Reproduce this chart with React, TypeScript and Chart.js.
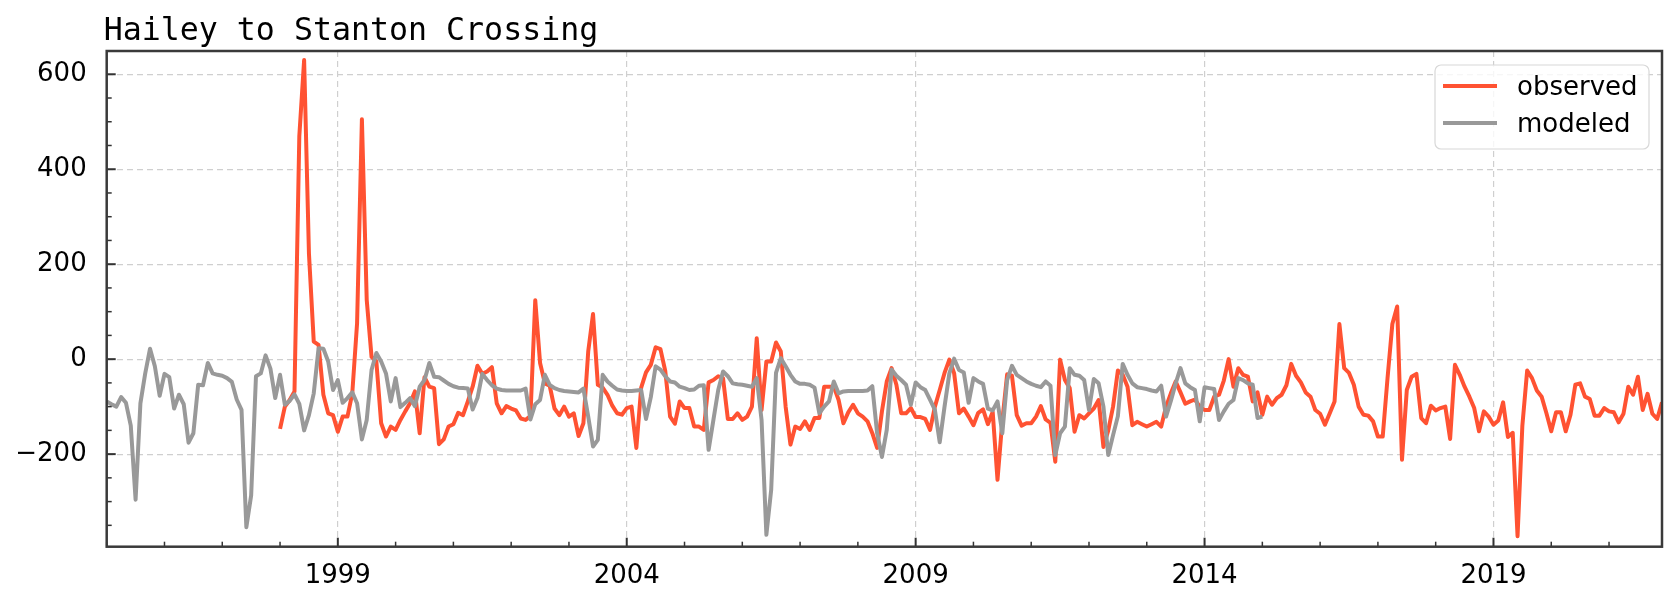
import React, { useEffect, useRef } from "react";
import { Chart, registerables } from "chart.js";

Chart.register(...registerables);

const TITLE = "Hailey to Stanton Crossing";
const OBSERVED_LABEL = "observed";
const MODELED_LABEL = "modeled";
const OBSERVED_COLOR = "#ff5232";
const MODELED_COLOR = "#999999";

// monthly values, first value = January of the start year
const MODELED_START_YEAR = 1995;
const OBSERVED_START_YEAR = 1998;

const modeledValues = [
  -89, -95, -100, -80, -92, -140, -296, -93, -30, 22,
  -15, -77, -31, -38, -104, -75, -95, -176, -156, -54,
  -55, -8, -30, -33, -35, -40, -48, -85, -107, -354,
  -287, -36, -30, 8, -20, -82, -33, -96, -88, -74,
  -94, -150, -118, -72, 23, 22, -5, -65, -44, -92,
  -82, -70, -93, -169, -128, -23, 13, -5, -30, -89,
  -40, -101, -92, -82, -99, -58, -44, -8, -37, -38,
  -45, -52, -57, -60, -61, -62, -106, -82, -31, -44,
  -55, -62, -65, -66, -66, -66, -66, -62, -127, -95,
  -86, -33, -54, -61, -65, -67, -68, -69, -70, -62,
  -121, -184, -170, -33, -47, -56, -64, -66, -67, -67,
  -66, -65, -126, -80, -15, -22, -36, -47, -49, -58,
  -61, -65, -64, -56, -55, -191, -128, -65, -26, -36,
  -51, -53, -54, -56, -58, -40, -128, -370, -275, -29,
  2, -15, -33, -47, -52, -52, -54, -60, -114, -100,
  -89, -47, -72, -68, -67, -67, -67, -67, -66, -57,
  -156, -206, -149, -22, -35, -44, -54, -96, -49, -59,
  -65, -86, -107, -175, -100, -30, 1, -23, -28, -92,
  -40, -47, -52, -104, -108, -89, -156, -44, -14, -33,
  -40, -47, -52, -56, -59, -47, -56, -202, -156, -142,
  -19, -33, -35, -44, -107, -42, -51, -100, -202, -160,
  -120, -10, -33, -51, -59, -61, -63, -66, -68, -56,
  -121, -88, -51, -19, -51, -59, -65, -131, -59, -61,
  -63, -128, -110, -94, -86, -40, -44, -51, -54, -124,
  -121,
];

const observedValues = [
  -147, -100, -86, -68,
  469, 630, 223, 37, 30, -75, -114, -118, -153, -121,
  -121, -72, 76, 505, 125, 5, -5, -135, -163, -142,
  -149, -128, -110, -93, -68, -156, -38, -58, -61, -179,
  -169, -142, -137, -113, -118, -89, -58, -14, -31, -26,
  -17, -93, -114, -99, -104, -108, -125, -128, -120, 124,
  -8, -51, -56, -104, -118, -100, -121, -114, -162, -135,
  16, 95, -54, -60, -75, -98, -114, -117, -103, -100,
  -187, -60, -28, -12, 25, 21, -25, -121, -136, -89,
  -103, -103, -142, -142, -149, -49, -44, -36, -40, -126,
  -126, -114, -128, -121, -100, 44, -107, -5, -5, 35,
  16, -100, -180, -142, -147, -131, -149, -124, -124, -58,
  -58, -58, -86, -135, -112, -96, -114, -121, -131, -156,
  -187, -110, -47, -19, -54, -114, -114, -103, -122, -122,
  -126, -149, -100, -65, -29, -1, -30, -114, -104, -121,
  -139, -113, -106, -137, -111, -254, -130, -32, -35, -118,
  -140, -135, -135, -121, -99, -127, -134, -216, -1, -44,
  -61, -153, -118, -125, -114, -104, -86, -185, -150, -100,
  -24, -33, -58, -139, -132, -137, -142, -137, -132, -142,
  -100, -72, -47, -70, -94, -89, -85, -100, -107, -107,
  -79, -75, -45, 0, -58, -19, -33, -37, -89, -70,
  -117, -79, -96, -82, -75, -55, -10, -35, -49, -70,
  -79, -107, -115, -138, -114, -89, 74, -19, -29, -54,
  -100, -117, -119, -131, -163, -163, -40, 74, 111, -212,
  -65, -37, -31, -124, -135, -98, -108, -103, -100, -168,
  -12, -33, -58, -79, -103, -152, -110, -121, -138, -129,
  -91, -164, -155, -373, -140, -24, -40, -66, -79, -114,
  -152, -112, -112, -152, -117, -54, -51, -79, -84, -119,
  -119, -103, -110, -112, -133, -115, -58, -75, -37, -107,
  -73, -115, -126, -91,
];

const xTickYears = [
  1995, 1996, 1997, 1998, 1999, 2000, 2001, 2002, 2003, 2004, 2005, 2006, 2007,
  2008, 2009, 2010, 2011, 2012, 2013, 2014, 2015, 2016, 2017, 2018, 2019, 2020, 2021,
];
const xLabelYears = [1999, 2004, 2009, 2014, 2019];
const yTickValues = [
  -350, -300, -250, -200, -150, -100, -50, 0, 50, 100, 150, 200, 250, 300, 350, 400, 450, 500, 550, 600,
];
const yLabelValues = [-200, 0, 200, 400, 600];

const X_MIN = 1995;
const X_MAX = 2021 + 11 / 12;
const Y_MIN = -395;
const Y_MAX = 649;

const LINE_WIDTH = 4;

const toPoints = (start: number, values: number[]) =>
  values.map((v, i) => ({ x: start + i / 12, y: v }));

const fmtY = (v: number) => (v < 0 ? "\u2212" + Math.abs(v) : String(v));

const decorPlugin = {
  id: "decor",
  afterDraw(chart: any) {
    const { ctx, chartArea: a, scales } = chart;
    const xs = scales.x;
    const ys = scales.y;
    ctx.save();
    ctx.strokeStyle = "#333333";
    ctx.lineCap = "butt";
    xTickYears.forEach((v) => {
      const px = xs.getPixelForValue(v);
      const major = xLabelYears.includes(v);
      ctx.lineWidth = major ? 2 : 1.5;
      const len = major ? 9 : 5;
      ctx.beginPath();
      ctx.moveTo(px, a.bottom);
      ctx.lineTo(px, a.bottom - len);
      ctx.stroke();
    });
    yTickValues.forEach((v) => {
      const py = ys.getPixelForValue(v);
      const major = yLabelValues.includes(v);
      ctx.lineWidth = major ? 2 : 1.5;
      const len = major ? 9 : 5;
      ctx.beginPath();
      ctx.moveTo(a.left, py);
      ctx.lineTo(a.left + len, py);
      ctx.stroke();
    });
    // spines
    ctx.lineWidth = 2.5;
    ctx.strokeStyle = "#3a3a3a";
    ctx.strokeRect(a.left, a.top, a.right - a.left, a.bottom - a.top);

    // title
    ctx.fillStyle = "#000000";
    ctx.font = "31.6px 'DejaVu Sans Mono'";
    ctx.textAlign = "left";
    ctx.textBaseline = "alphabetic";
    ctx.fillText(TITLE, a.left - 3, a.top - 11);

    // legend
    const bw = 214;
    const bh = 84;
    const bx = a.right - 13 - bw;
    const by = a.top + 14;
    const r = 6;
    ctx.beginPath();
    ctx.moveTo(bx + r, by);
    ctx.arcTo(bx + bw, by, bx + bw, by + bh, r);
    ctx.arcTo(bx + bw, by + bh, bx, by + bh, r);
    ctx.arcTo(bx, by + bh, bx, by, r);
    ctx.arcTo(bx, by, bx + bw, by, r);
    ctx.closePath();
    ctx.fillStyle = "rgba(255,255,255,0.8)";
    ctx.fill();
    ctx.lineWidth = 1.2;
    ctx.strokeStyle = "#d8d8d8";
    ctx.stroke();

    const entries = [
      { label: OBSERVED_LABEL, color: OBSERVED_COLOR, y: by + 21 },
      { label: MODELED_LABEL, color: MODELED_COLOR, y: by + 58 },
    ];
    ctx.font = "26px 'DejaVu Sans'";
    entries.forEach((e) => {
      ctx.strokeStyle = e.color;
      ctx.lineWidth = LINE_WIDTH;
      ctx.beginPath();
      ctx.moveTo(bx + 8, e.y);
      ctx.lineTo(bx + 62, e.y);
      ctx.stroke();
      ctx.fillStyle = "#000000";
      ctx.fillText(e.label, bx + 82, e.y + 9);
    });
    ctx.restore();
  },
};

export default function App() {
  const canvasRef = useRef<HTMLCanvasElement | null>(null);

  useEffect(() => {
    const canvas = canvasRef.current;
    if (!canvas) return;
    const chart = new Chart(canvas, {
      type: "line",
      data: {
        datasets: [
          {
            label: MODELED_LABEL,
            data: toPoints(MODELED_START_YEAR, modeledValues),
            borderColor: MODELED_COLOR,
            backgroundColor: MODELED_COLOR,
            borderWidth: LINE_WIDTH,
            pointRadius: 0,
            tension: 0,
            fill: false,
            borderJoinStyle: "round",
          },
          {
            label: OBSERVED_LABEL,
            data: toPoints(OBSERVED_START_YEAR, observedValues),
            borderColor: OBSERVED_COLOR,
            backgroundColor: OBSERVED_COLOR,
            borderWidth: LINE_WIDTH,
            pointRadius: 0,
            tension: 0,
            fill: false,
            borderJoinStyle: "round",
          },
        ],
      },
      options: {
        responsive: false,
        animation: false,
        devicePixelRatio: 1,
        events: [],
        layout: { padding: { top: 51, right: 8, bottom: 0, left: 0 } },
        plugins: {
          legend: { display: false },
          tooltip: { enabled: false },
          title: { display: false },
        },
        scales: {
          x: {
            type: "linear",
            min: X_MIN,
            max: X_MAX,
            afterBuildTicks: (s: any) => {
              s.ticks = xTickYears.map((v) => ({ value: v }));
            },
            afterFit: (s: any) => {
              s.height = 42.3;
            },
            ticks: {
              autoSkip: false,
              maxRotation: 0,
              padding: 14,
              color: "#000000",
              font: { family: "'DejaVu Sans'", size: 26 },
              callback: (v: any) => (xLabelYears.includes(Number(v)) ? String(v) : ""),
            },
            grid: {
              drawTicks: false,
              lineWidth: 1.2,
              color: (c: any) =>
                c.tick && xLabelYears.includes(c.tick.value) ? "#cfcfcf" : "rgba(0,0,0,0)",
            },
            border: { display: false, dash: [6, 4] },
          },
          y: {
            type: "linear",
            min: Y_MIN,
            max: Y_MAX,
            afterBuildTicks: (s: any) => {
              s.ticks = yTickValues.map((v) => ({ value: v }));
            },
            afterFit: (s: any) => {
              s.width = 106.7;
            },
            ticks: {
              autoSkip: false,
              padding: 20,
              color: "#000000",
              font: { family: "'DejaVu Sans'", size: 26 },
              callback: (v: any) => (yLabelValues.includes(Number(v)) ? fmtY(Number(v)) : ""),
            },
            grid: {
              drawTicks: false,
              lineWidth: 1.2,
              color: (c: any) =>
                c.tick && yLabelValues.includes(c.tick.value) ? "#cfcfcf" : "rgba(0,0,0,0)",
            },
            border: { display: false, dash: [6, 4] },
          },
        },
      },
      plugins: [decorPlugin],
    });
    return () => chart.destroy();
  }, []);

  return (
    <div style={{ position: "absolute", left: 0, top: 0, width: 1670, height: 589, background: "#ffffff" }}>
      <canvas ref={canvasRef} width={1670} height={589} style={{ display: "block" }} />
    </div>
  );
}
